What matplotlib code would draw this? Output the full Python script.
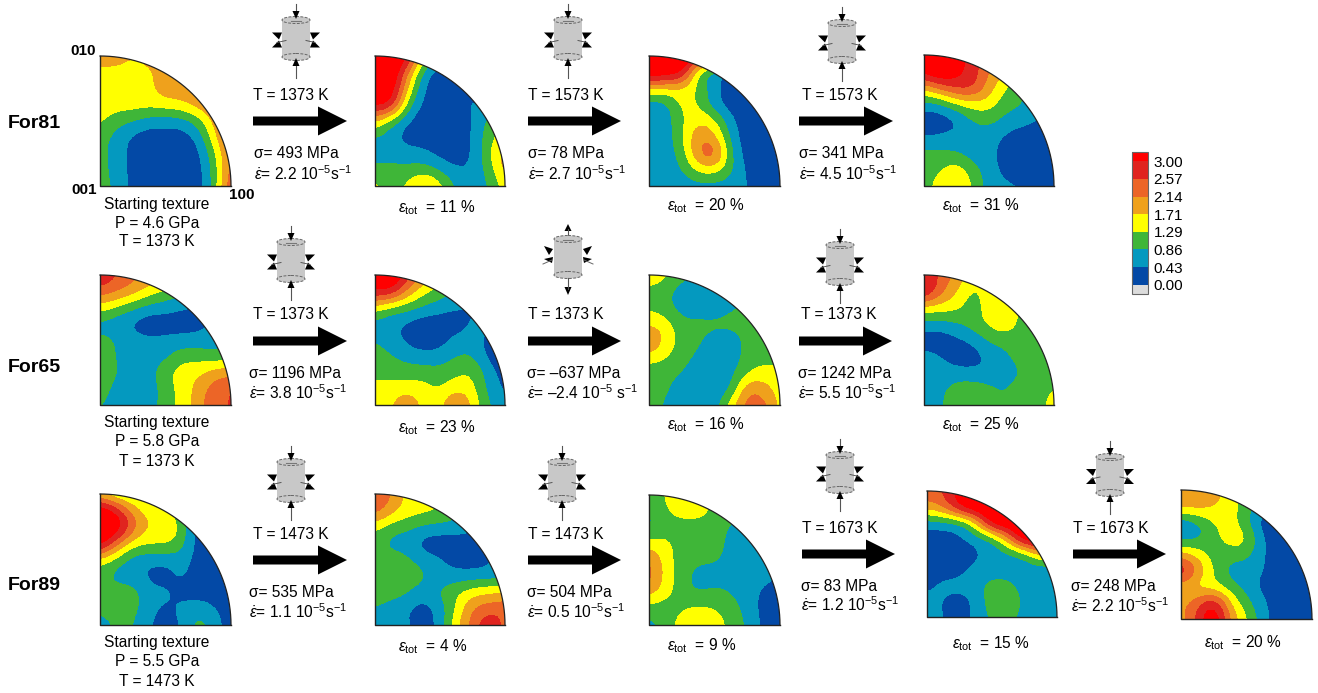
import numpy as np
import matplotlib
matplotlib.use("Agg")
import matplotlib.pyplot as plt
from matplotlib.colors import ListedColormap, BoundaryNorm
from matplotlib.cm import ScalarMappable
from matplotlib.patches import Wedge, Rectangle, Ellipse, Polygon, FancyArrow

plt.rcParams['font.family'] = ['Liberation Sans', 'DejaVu Sans']
plt.rcParams['mathtext.fontset'] = 'custom'
plt.rcParams['mathtext.rm'] = 'Liberation Sans'
plt.rcParams['mathtext.it'] = 'Liberation Sans:italic'
plt.rcParams['mathtext.bf'] = 'Liberation Sans:bold'

levels = [0.00, 0.43, 0.86, 1.29, 1.71, 2.14, 2.57, 3.00]
band_colors = ['#dcdcdc', '#0349a6', '#0499bf', '#3fb638', '#ffff00',
               '#efa11c', '#ec6527', '#e0241f', '#ff0000']

# pole figure densities, top row is 010 side, bottom row 001-100
for81_start = [
    [2.0, 2.0, 1.7, 1.9, 1.9, 1.9, 1.9, 1.9, 1.9],
    [1.55, 1.5, 1.5, 1.6, 1.95, 2.0, 2.0, 2.0, 2.0],
    [1.5, 1.5, 1.5, 1.6, 1.95, 2.0, 2.0, 2.0, 2.0],
    [1.5, 1.5, 1.5, 1.45, 1.5, 1.6, 1.95, 2.1, 2.1],
    [1.4, 1.0, 0.85, 0.6, 0.6, 0.6, 1.0, 1.9, 2.4],
    [1.0, 0.7, 0.3, 0.2, 0.2, 0.2, 0.5, 1.6, 2.5],
    [1.0, 0.7, 0.25, 0.15, 0.15, 0.15, 0.25, 1.2, 2.3],
    [1.0, 0.7, 0.25, 0.15, 0.15, 0.15, 0.2, 1.0, 2.4],
    [1.0, 0.8, 0.25, 0.15, 0.15, 0.15, 0.15, 1.0, 2.6],
]
for81_11 = [
    [3.6, 3.6, 3.2, 1.5, 0.8, 0.6, 0.6, 0.6, 0.6],
    [3.6, 3.6, 2.2, 0.6, 0.2, 0.2, 0.2, 0.2, 0.2],
    [3.6, 3.4, 1.7, 0.35, 0.15, 0.15, 0.15, 0.2, 0.2],
    [3.2, 3.0, 1.05, 0.25, 0.15, 0.15, 0.55, 0.6, 0.6],
    [1.7, 1.05, 0.4, 0.15, 0.15, 0.15, 0.35, 1.0, 1.2],
    [0.8, 0.55, 0.2, 0.15, 0.15, 0.15, 0.45, 1.1, 1.6],
    [0.65, 0.65, 0.65, 0.55, 0.25, 0.15, 0.4, 1.2, 2.0],
    [1.0, 1.0, 0.95, 1.05, 0.8, 0.45, 0.5, 1.0, 1.9],
    [1.45, 1.0, 1.4, 2.0, 1.45, 0.75, 0.6, 0.8, 1.5],
]
for81_20 = [
    [3.6, 3.6, 3.6, 3.2, 2.4, 1.0, 0.6, 0.6, 0.6],
    [3.6, 3.4, 3.2, 1.1, 0.6, 0.2, 0.2, 0.2, 0.2],
    [1.6, 1.6, 1.6, 1.2, 0.55, 0.2, 0.15, 0.15, 0.15],
    [0.6, 0.6, 1.45, 1.3, 0.55, 0.2, 0.15, 0.15, 0.15],
    [0.6, 0.6, 1.2, 1.7, 1.4, 0.5, 0.15, 0.15, 0.15],
    [0.6, 0.6, 1.2, 2.1, 1.9, 0.7, 0.15, 0.15, 0.15],
    [0.6, 0.6, 1.0, 2.2, 2.6, 0.85, 0.2, 0.15, 0.15],
    [0.6, 0.6, 0.8, 1.4, 1.5, 0.95, 0.3, 0.15, 0.15],
    [0.6, 0.6, 0.6, 0.65, 0.65, 0.6, 0.45, 0.15, 0.15],
]
for81_31 = [
    [3.6, 3.6, 3.2, 2.8, 2.4, 1.9, 1.0, 0.6, 0.6],
    [3.2, 3.6, 3.2, 2.8, 2.1, 1.7, 1.0, 0.6, 0.6],
    [1.8, 2.3, 2.7, 2.7, 1.9, 1.3, 0.9, 0.6, 0.6],
    [0.6, 0.7, 1.2, 1.5, 1.5, 1.0, 0.9, 0.6, 0.6],
    [0.15, 0.15, 0.3, 0.85, 1.0, 0.7, 0.6, 0.4, 0.3],
    [0.4, 0.45, 0.6, 0.6, 0.6, 0.35, 0.15, 0.15, 0.15],
    [1.0, 0.95, 0.85, 0.6, 0.6, 0.2, 0.15, 0.15, 0.15],
    [1.05, 1.25, 1.6, 1.05, 0.6, 0.3, 0.15, 0.15, 0.15],
    [1.1, 1.5, 1.7, 1.3, 0.6, 0.5, 0.45, 0.15, 0.15],
]
for65_start = [
    [3.0, 2.6, 2.3, 2.0, 2.0, 1.5, 1.0, 1.0, 1.0],
    [2.4, 2.2, 1.9, 1.5, 1.2, 1.0, 0.8, 0.8, 0.8],
    [1.5, 1.2, 0.9, 0.65, 0.6, 0.45, 0.35, 0.4, 0.4],
    [0.65, 0.6, 0.3, 0.15, 0.15, 0.15, 0.25, 0.5, 0.5],
    [1.0, 0.85, 0.6, 0.5, 0.55, 0.6, 0.6, 0.6, 0.6],
    [1.05, 0.85, 0.6, 0.6, 0.75, 1.1, 1.1, 1.0, 1.0],
    [1.1, 0.9, 0.6, 0.7, 1.15, 1.55, 1.6, 1.9, 2.0],
    [1.1, 0.7, 0.6, 0.6, 1.05, 1.45, 1.85, 2.4, 2.6],
    [0.9, 0.6, 0.6, 0.6, 1.1, 1.4, 1.95, 2.5, 2.6],
]
for65_23 = [
    [3.6, 3.6, 2.8, 2.0, 1.5, 1.0, 0.8, 0.6, 0.6],
    [3.0, 3.0, 2.0, 1.4, 1.1, 0.8, 0.6, 0.6, 0.6],
    [1.5, 1.1, 1.0, 0.75, 0.6, 0.45, 0.4, 0.4, 0.4],
    [0.6, 0.55, 0.3, 0.15, 0.15, 0.15, 0.5, 0.5, 0.5],
    [0.85, 0.6, 0.3, 0.15, 0.2, 0.6, 0.6, 0.3, 0.2],
    [1.05, 0.9, 0.65, 0.55, 0.6, 0.85, 0.9, 0.25, 0.15],
    [1.1, 1.1, 1.1, 1.1, 1.0, 1.2, 1.3, 0.6, 0.25],
    [1.5, 1.5, 1.5, 1.45, 1.25, 1.6, 1.45, 0.7, 0.3],
    [1.6, 1.6, 2.2, 1.5, 1.5, 2.4, 1.6, 0.85, 0.6],
]
for65_16 = [
    [1.6, 1.4, 1.0, 0.8, 0.7, 0.6, 0.6, 0.6, 0.6],
    [1.15, 1.0, 0.6, 0.6, 0.6, 0.6, 0.6, 0.6, 0.6],
    [1.2, 1.05, 0.6, 0.55, 0.55, 0.8, 1.0, 1.0, 1.0],
    [1.6, 1.5, 1.0, 1.0, 1.0, 1.0, 1.0, 1.0, 1.0],
    [2.4, 1.55, 1.15, 0.95, 0.6, 0.6, 1.0, 1.0, 1.0],
    [1.5, 1.35, 1.05, 0.75, 0.55, 0.6, 1.0, 1.1, 1.1],
    [1.05, 1.0, 0.85, 0.55, 0.55, 0.7, 1.2, 1.5, 1.4],
    [1.05, 0.95, 0.6, 0.55, 0.55, 0.75, 2.1, 1.9, 1.45],
    [1.05, 0.8, 0.55, 0.55, 0.6, 1.5, 2.4, 2.4, 1.5],
]
for65_25 = [
    [3.0, 2.5, 2.0, 1.5, 1.3, 1.1, 1.0, 1.0, 1.0],
    [3.2, 2.3, 1.7, 1.15, 1.5, 1.5, 1.2, 1.0, 1.0],
    [1.55, 1.5, 1.4, 1.05, 1.5, 1.6, 1.2, 1.0, 1.0],
    [0.65, 0.65, 0.8, 1.05, 1.4, 1.6, 1.15, 1.0, 1.0],
    [0.15, 0.15, 0.3, 0.5, 0.9, 1.05, 1.05, 1.0, 1.0],
    [0.6, 0.45, 0.15, 0.2, 0.5, 0.75, 1.05, 1.1, 1.1],
    [0.6, 0.6, 0.6, 0.5, 0.55, 0.65, 0.85, 1.1, 1.1],
    [0.6, 0.75, 1.05, 1.15, 0.95, 0.85, 1.05, 1.1, 1.3],
    [0.6, 0.8, 1.1, 1.15, 1.0, 0.8, 1.0, 1.1, 1.5],
]
for89_start = [
    [1.6, 1.2, 1.1, 1.0, 1.0, 1.0, 0.5, 0.2, 0.2],
    [3.6, 2.9, 1.95, 1.5, 1.2, 1.0, 0.4, 0.2, 0.2],
    [3.6, 3.5, 2.4, 1.6, 2.0, 1.05, 0.15, 0.15, 0.15],
    [3.4, 2.3, 1.45, 1.35, 1.3, 1.05, 0.2, 0.15, 0.15],
    [1.5, 1.1, 0.6, 0.55, 0.6, 0.65, 0.2, 0.15, 0.15],
    [1.0, 0.65, 0.6, 0.3, 0.15, 0.55, 0.15, 0.15, 0.15],
    [1.05, 1.1, 1.05, 0.6, 0.55, 0.25, 0.15, 0.15, 0.15],
    [1.0, 1.05, 1.0, 0.6, 0.3, 0.55, 0.75, 0.45, 0.15],
    [0.6, 0.95, 0.9, 0.45, 0.15, 0.45, 1.1, 0.65, 0.15],
]
for89_4 = [
    [2.5, 2.2, 1.5, 1.4, 1.3, 1.0, 0.8, 0.6, 0.6],
    [2.4, 1.9, 1.5, 1.45, 1.3, 1.0, 0.7, 0.6, 0.6],
    [1.4, 1.05, 0.95, 0.75, 0.7, 0.7, 0.5, 0.5, 0.5],
    [1.0, 0.7, 0.6, 0.2, 0.15, 0.15, 0.2, 0.5, 0.5],
    [1.0, 1.1, 0.95, 0.65, 0.45, 0.25, 0.15, 0.35, 0.5],
    [1.1, 1.15, 1.1, 0.95, 0.6, 0.55, 0.6, 0.6, 0.6],
    [1.1, 1.1, 0.9, 0.6, 0.9, 1.25, 1.5, 1.65, 1.7],
    [0.85, 0.6, 0.45, 0.2, 0.6, 1.3, 2.2, 2.4, 2.5],
    [0.6, 0.6, 0.5, 0.15, 0.55, 1.6, 2.3, 3.0, 2.4],
]
for89_9 = [
    [1.1, 1.3, 1.6, 1.4, 1.2, 1.0, 1.0, 1.0, 1.0],
    [0.85, 1.25, 1.5, 1.5, 1.2, 1.0, 1.0, 1.0, 1.0],
    [0.7, 1.05, 1.05, 1.05, 1.05, 0.8, 0.55, 0.5, 0.5],
    [1.5, 1.45, 1.05, 1.0, 1.0, 0.75, 0.6, 0.6, 0.6],
    [2.2, 1.5, 1.05, 0.95, 0.95, 0.7, 0.6, 0.6, 0.6],
    [2.4, 1.55, 1.05, 0.65, 0.6, 0.6, 0.6, 0.55, 0.45],
    [1.9, 1.45, 1.05, 0.8, 1.0, 0.85, 0.6, 0.35, 0.15],
    [1.05, 1.0, 1.25, 1.4, 1.3, 1.05, 0.7, 0.25, 0.15],
    [0.7, 1.0, 1.55, 1.6, 1.55, 1.15, 0.8, 0.3, 0.15],
]
for89_15 = [
    [2.4, 2.6, 3.2, 3.4, 3.6, 3.6, 3.6, 3.6, 3.6],
    [1.95, 2.2, 3.2, 3.6, 3.6, 3.6, 3.6, 3.6, 3.6],
    [0.6, 0.7, 0.7, 1.6, 3.4, 3.6, 3.6, 3.6, 3.6],
    [0.15, 0.15, 0.3, 0.6, 0.8, 2.0, 3.6, 3.6, 3.6],
    [0.15, 0.15, 0.15, 0.3, 0.6, 0.65, 0.9, 1.8, 1.8],
    [0.15, 0.15, 0.25, 0.6, 0.6, 0.6, 0.6, 0.5, 0.5],
    [0.3, 0.6, 0.6, 0.7, 1.05, 1.0, 0.6, 0.35, 0.6],
    [0.6, 0.4, 0.15, 0.55, 1.1, 1.4, 0.65, 0.6, 0.6],
    [0.6, 0.45, 0.15, 0.55, 0.95, 1.0, 0.65, 0.6, 0.9],
]
for89_20 = [
    [1.95, 1.95, 1.9, 1.5, 1.1, 0.6, 0.4, 0.2, 0.2],
    [1.95, 1.95, 1.75, 1.5, 1.05, 0.6, 0.3, 0.2, 0.2],
    [0.4, 0.75, 1.3, 1.5, 0.95, 0.15, 0.15, 0.15, 0.15],
    [0.6, 0.7, 1.1, 1.55, 1.45, 0.4, 0.15, 0.15, 0.15],
    [1.9, 1.6, 1.05, 1.05, 1.0, 0.45, 0.15, 0.15, 0.15],
    [3.2, 2.1, 1.25, 0.65, 0.6, 0.45, 0.15, 0.15, 0.15],
    [1.7, 1.5, 1.35, 1.05, 0.65, 0.3, 0.15, 0.15, 0.15],
    [2.0, 2.4, 3.1, 1.7, 1.0, 0.5, 0.15, 0.15, 0.15],
    [1.9, 2.7, 3.6, 2.1, 1.3, 0.6, 0.15, 0.15, 0.15],
]

row_names = ['For81', 'For65', 'For89']
start_texts = [['P = 4.6 GPa', 'T = 1373 K'], ['P = 5.8 GPa', 'T = 1373 K'], ['P = 5.5 GPa', 'T = 1473 K']]
temps = [['1373', '1573', '1573'], ['1373', '1373', '1373'], ['1473', '1473', '1673', '1673']]
stress = [['493', '78', '341'], ['1196', '\u2013637', '1242'], ['535', '504', '83', '248']]
rates = [['2.2', '2.7', '4.5'], ['3.8', '\u20132.4', '5.5'], ['1.1', '0.5', '1.2', '2.2']]
strains = [['11', '20', '31'], ['23', '16', '25'], ['4', '9', '15', '20']]

W, H = 1318, 693
fig = plt.figure(figsize=(W / 100, H / 100), dpi=100)
bg = fig.add_axes([0, 0, 1, 1])
bg.set_xlim(0, W)
bg.set_ylim(H, 0)
bg.axis('off')

cmap = ListedColormap(band_colors[1:-1])
cmap.set_under(band_colors[0])
cmap.set_over(band_colors[-1])
norm = BoundaryNorm(levels, cmap.N)


def smooth(values, factor=4):
    # refine the coarse grid a bit so band edges are not polygons
    z = np.array(values, dtype=float)[::-1]
    n = z.shape[0]
    old = np.linspace(0, 1, n)
    new = np.linspace(0, 1, (n - 1) * factor + 1)
    z = np.array([np.interp(new, old, r) for r in z])
    z = np.array([np.interp(new, old, c) for c in z.T]).T
    k = np.ones(factor + 1) / (factor + 1)
    p = np.pad(z, factor // 2, mode='edge')
    p = np.apply_along_axis(lambda r: np.convolve(r, k, mode='same'), 0, p)
    p = np.apply_along_axis(lambda r: np.convolve(r, k, mode='same'), 1, p)
    return new, p[factor // 2:-(factor // 2), factor // 2:-(factor // 2)]


def pole_figure(values, left, right, top, bottom):
    ax = fig.add_axes([left / W, 1 - bottom / H, (right - left) / W, (bottom - top) / H])
    ax.set_xlim(0, 1)
    ax.set_ylim(0, 1)
    ax.axis('off')
    ax.patch.set_alpha(0)
    g, z = smooth(values)
    cs = ax.contourf(g, g, z, levels=[-9] + levels + [9], colors=band_colors)
    clip = Wedge((0, 0), 1, 0, 90, transform=ax.transData, facecolor='none', edgecolor='none')
    ax.add_patch(clip)
    cs.set_clip_path(clip)
    t = np.linspace(0, np.pi / 2, 200)
    ax.plot(np.cos(t), np.sin(t), color='#222222', lw=0.9, clip_on=False)
    ax.plot([0, 0, 1], [1, 0, 0], color='#222222', lw=1.0, clip_on=False)


def cell_icon(cx, top, bottom, tension=False):
    half = 14
    body = '#c8c8c8'
    bg.add_patch(Rectangle((cx - half, top), 2 * half, bottom - top, fc=body, ec='none', zorder=2))
    bg.add_patch(Ellipse((cx, bottom), 2 * half, 7, fc=body, ec='#666666', lw=0.7, ls=(0, (3, 1.5)), zorder=2))
    bg.add_patch(Ellipse((cx, top), 2 * half, 7, fc=body, ec='#666666', lw=0.7, ls=(0, (3, 1.5)), zorder=3))
    bg.plot([cx - 5, cx + 5], [top + 1, top + 1], color='#777777', lw=0.8, zorder=4)
    mid = (top + bottom) / 2
    for s in (-1, 1):
        if tension:
            bg.add_patch(Polygon([(cx + s * 24, mid - 11), (cx + s * 15, mid - 8), (cx + s * 19, mid - 2)], fc='k', zorder=4))
            bg.add_patch(Polygon([(cx + s * 24, mid + 2), (cx + s * 15, mid + 0), (cx + s * 16, mid + 6)], fc='k', zorder=4))
            bg.plot([cx + s * 25, cx + s * 16], [mid + 7, mid + 3], color='#666666', lw=0.7, zorder=4)
        else:
            bg.add_patch(Polygon([(cx + s * 24, mid - 6), (cx + s * 14, mid - 6), (cx + s * 17, mid + 1)], fc='k', zorder=4))
            bg.add_patch(Polygon([(cx + s * 24, mid + 9), (cx + s * 14, mid + 9), (cx + s * 17, mid + 2)], fc='k', zorder=4))
            bg.plot([cx + s * 19, cx + s * 10], [mid + 4, mid + 2], color='#555555', lw=0.7, zorder=5)
    if tension:
        bg.plot([cx, cx], [top - 10, top - 2], color='#555555', lw=0.8)
        bg.plot([cx, cx], [bottom + 3, bottom + 14], color='#555555', lw=0.8)
        bg.add_patch(Polygon([(cx - 3.5, top - 8), (cx + 3.5, top - 8), (cx, top - 15)], fc='k'))
        bg.add_patch(Polygon([(cx - 3.5, bottom + 12), (cx + 3.5, bottom + 12), (cx, bottom + 20)], fc='k'))
    else:
        bg.plot([cx, cx], [top - 16, top - 2], color='#555555', lw=0.8)
        bg.plot([cx, cx], [bottom + 5, bottom + 21], color='#555555', lw=0.8)
        bg.add_patch(Polygon([(cx - 3.5, top - 9), (cx + 3.5, top - 9), (cx, top - 1)], fc='k', zorder=5))
        bg.add_patch(Polygon([(cx - 3.5, bottom + 9), (cx + 3.5, bottom + 9), (cx, bottom + 1)], fc='k', zorder=5))


def big_arrow(x0, x1, y):
    bg.add_patch(FancyArrow(x0, y, x1 - x0, 0, width=9, head_width=29, head_length=29,
                            length_includes_head=True, fc='k', ec='k', lw=0))


# layout: pixel boxes of panels and annotation anchors
panel_grids = [[for81_start, for81_11, for81_20, for81_31],
               [for65_start, for65_23, for65_16, for65_25],
               [for89_start, for89_4, for89_9, for89_15, for89_20]]
panel_boxes = [[(100, 231, 56, 186), (375, 505, 56, 186), (649, 780, 56, 186), (924, 1054, 55, 186)],
               [(100, 231, 275, 405), (375, 505, 275, 405), (649, 780, 275, 405), (924, 1054, 275, 405)],
               [(100, 231, 494, 625), (375, 505, 494, 625), (649, 780, 495, 625), (927, 1057, 491, 617), (1181, 1312, 490, 619)]]
icon_boxes = [[(296, 20, 57), (568, 20, 57), (842, 23, 60)],
              [(291, 242, 279), (568, 239, 275), (840, 245, 282)],
              [(291, 462, 499), (562, 462, 499), (840, 455, 490), (1110, 457, 493)]]
arrow_spans = [[(253, 347, 121), (528, 621, 121), (799, 893, 121)],
               [(253, 347, 341), (528, 621, 341), (799, 892, 341)],
               [(253, 347, 560), (528, 621, 560), (802, 895, 554), (1073, 1166, 554)]]
temp_pos = [[(253, 95.5), (528, 95.5), (802, 95.5)],
            [(253, 314.5), (528, 314.5), (801, 314.5)],
            [(253, 534.5), (528, 534.5), (802, 528.5), (1073, 528.5)]]
stress_pos = [[(254, 153.5, 173.5), (528, 153.5, 173.5), (799, 153.5, 173.5)],
              [(249, 373.5, 392.5), (527, 373.5, 392.5), (798, 373.5, 392.5)],
              [(249, 592.5, 611.5), (527, 592.5, 611.5), (801, 586.5, 604.5), (1071, 586.5, 605.5)]]
strain_pos = [[(398, 208), (667, 206), (942, 206)],
              [(398, 428), (667, 425), (942, 425)],
              [(398, 647), (667, 646), (952, 644), (1204, 643)]]
start_y = [204, 423, 643]
name_y = [123, 367, 586]

fs = 11.2
for r in range(3):
    bg.text(8, name_y[r], row_names[r], fontsize=14, fontweight='bold', va='center', ha='left')
    bg.text(157, start_y[r], 'Starting texture', fontsize=fs, ha='center', va='center')
    bg.text(157, start_y[r] + 19, start_texts[r][0], fontsize=fs, ha='center', va='center')
    bg.text(157, start_y[r] + 38, start_texts[r][1], fontsize=fs, ha='center', va='center')
    for grid, box in zip(panel_grids[r], panel_boxes[r]):
        pole_figure(grid, *box)
    for i in range(len(temps[r])):
        tension = r == 1 and i == 1
        cell_icon(*icon_boxes[r][i], tension=tension)
        big_arrow(*arrow_spans[r][i])
        bg.text(*temp_pos[r][i], 'T = %s K' % temps[r][i], fontsize=fs, va='center', ha='left')
        x, y1, y2 = stress_pos[r][i]
        bg.text(x, y1, '\u03c3= %s MPa' % stress[r][i], fontsize=fs, va='center', ha='left')
        gap = ' ' if rates[r][i].startswith('\u2013') else ''
        bg.text(x, y2, r'$\dot{\varepsilon}$= %s 10$^{-5}$%ss$^{-1}$' % (rates[r][i], gap),
                fontsize=fs, va='center', ha='left')
        bg.text(*strain_pos[r][i], r'$\varepsilon_{\mathrm{tot}}$  = %s %%' % strains[r][i],
                fontsize=fs, va='center', ha='left')

bg.text(96, 51, '010', fontsize=11, fontweight='bold', ha='right', va='center')
bg.text(97, 190, '001', fontsize=11, fontweight='bold', ha='right', va='center')
bg.text(229, 195, '100', fontsize=11, fontweight='bold', ha='left', va='center')

# colour scale
cax = fig.add_axes([1132 / W, 1 - 294 / H, 16 / W, 142 / H])
cb = fig.colorbar(ScalarMappable(norm=norm, cmap=cmap), cax=cax, extend='both', extendrect=True,
                  extendfrac=0.075, ticks=levels, spacing='uniform')
cb.ax.set_yticklabels(['%.2f' % v for v in levels], fontsize=11)
cb.ax.tick_params(length=0, pad=4)
cb.outline.set_edgecolor('#666666')
cb.outline.set_linewidth(0.8)

fig.savefig('out.png', dpi=100, facecolor='white')
